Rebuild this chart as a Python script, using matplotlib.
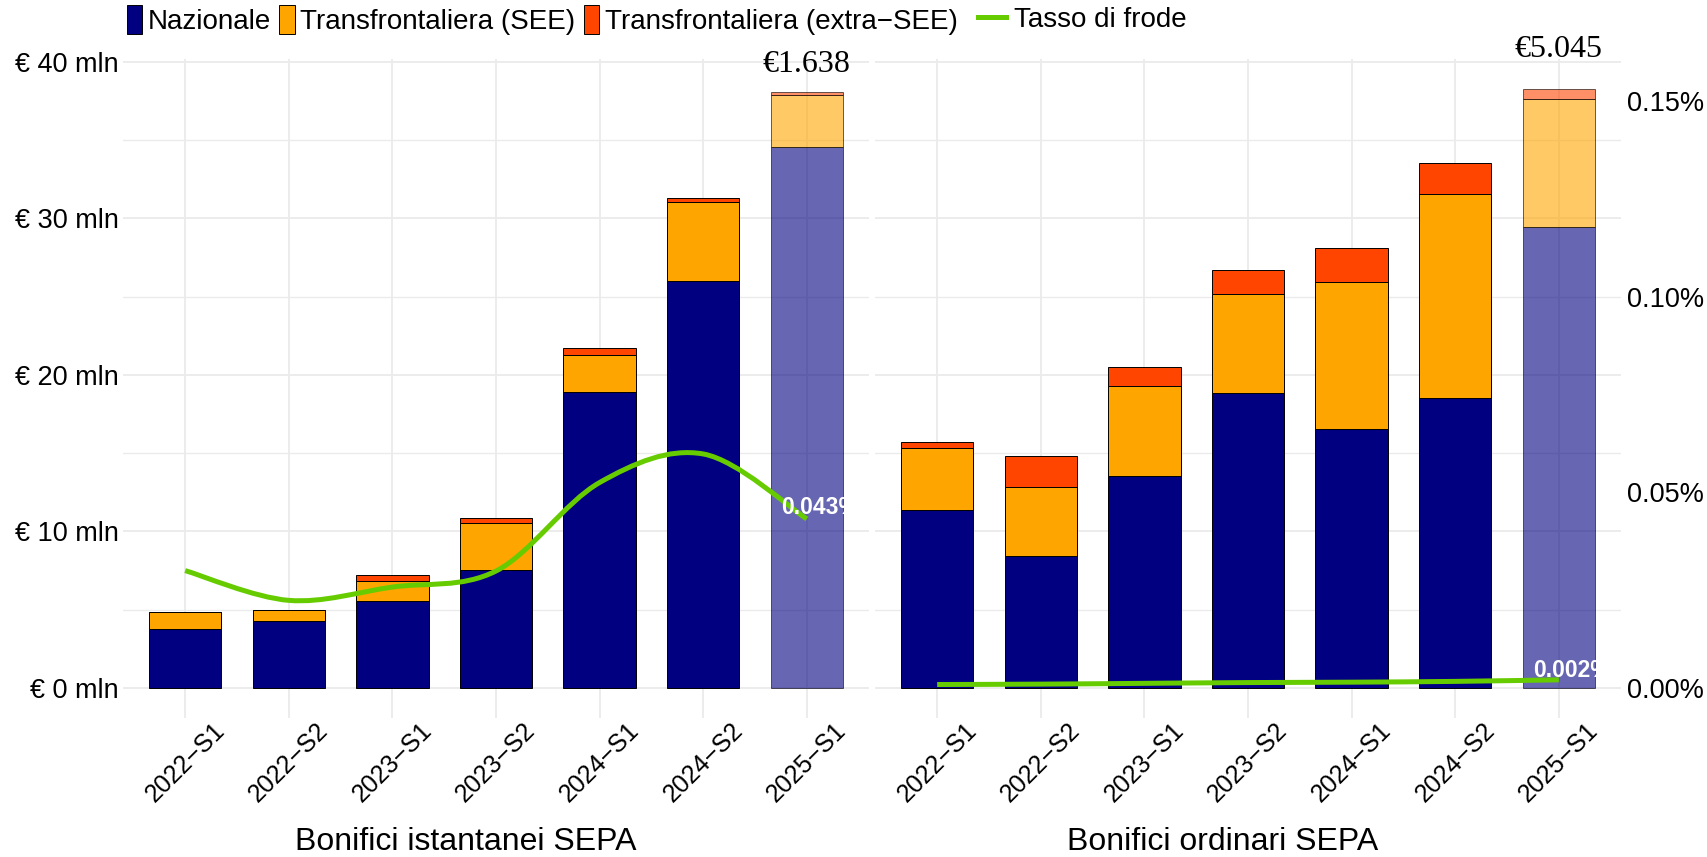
import numpy as np
import matplotlib
matplotlib.use("Agg")
import matplotlib.pyplot as plt
from matplotlib.patches import Patch, PathPatch
from matplotlib.lines import Line2D
from matplotlib.path import Path
from matplotlib.ticker import FixedLocator

plt.rcParams['font.family'] = ['Liberation Sans', 'DejaVu Sans']

# ---------------- data ----------------
periods = ["2022\u2212S1", "2022\u2212S2", "2023\u2212S1", "2023\u2212S2",
           "2024\u2212S1", "2024\u2212S2", "2025\u2212S1"]

series_names = ["Nazionale", "Transfrontaliera (SEE)", "Transfrontaliera (extra\u2212SEE)"]
rate_name = "Tasso di frode"

# Bonifici istantanei SEPA (mln di euro)
ist_naz = [3.76, 4.31, 5.53, 7.52, 18.90, 26.00, 34.57]
ist_see = [1.08, 0.66, 1.32, 3.03, 2.38, 5.03, 3.33]
ist_extra = [0.03, 0.04, 0.40, 0.33, 0.42, 0.27, 0.15]
ist_rate = [0.0300, 0.0224, 0.0258, 0.0299, 0.0525, 0.0598, 0.0432]  # %
ist_total_label = "\u20ac1.638"

# Bonifici ordinari SEPA (mln di euro)
ord_naz = [11.34, 8.42, 13.57, 18.85, 16.56, 18.50, 29.43]
ord_see = [3.96, 4.45, 5.70, 6.33, 9.39, 13.08, 8.20]
ord_extra = [0.42, 1.95, 1.25, 1.53, 2.15, 1.95, 0.63]
ord_rate = [0.0009, 0.0010, 0.0012, 0.0014, 0.0015, 0.0017, 0.0021]  # %
ord_total_label = "\u20ac5.045"

panel_titles = ["Bonifici istantanei SEPA", "Bonifici ordinari SEPA"]

y_ticks = [0, 10, 20, 30, 40]
y_minor = [5, 15, 25, 35]
rate_ticks = [0.00, 0.05, 0.10, 0.15]
SEC_FACTOR = 250.0  # mln per 1 %

# ---------------- style ----------------
NAVY = "#000080"
ORANGE = "#FFA500"
RED = "#FF4500"
GREEN = "#66CC00"
GRID = "#EBEBEB"
colors = [NAVY, ORANGE, RED]

W, H = 1708, 857
fig = plt.figure(figsize=(W / 100, H / 100), dpi=100)

px_top, px_bot = 59, 718
axl = fig.add_axes([123 / W, 1 - px_bot / H, 746 / W, (px_bot - px_top) / H])
axr = fig.add_axes([875 / W, 1 - px_bot / H, 746 / W, (px_bot - px_top) / H])

all_totals = [a + b + c for a, b, c in zip(ist_naz, ist_see, ist_extra)] + \
             [a + b + c for a, b, c in zip(ord_naz, ord_see, ord_extra)]
M = max(all_totals)
ylim = (-0.05 * M, 1.05 * M)


def smooth_path(xs, ys):
    P = np.column_stack([xs, ys]).astype(float)
    ext = np.vstack([P[0], P, P[-1]])
    verts = [tuple(P[0])]
    codes = [Path.MOVETO]
    for i in range(len(P) - 1):
        p0, p1, p2, p3 = ext[i], ext[i + 1], ext[i + 2], ext[i + 3]
        c1 = p1 + (p2 - p0) / 6.0
        c2 = p2 - (p3 - p1) / 6.0
        verts += [tuple(c1), tuple(c2), tuple(p2)]
        codes += [Path.CURVE4] * 3
    return Path(verts, codes)


def draw_panel(ax, naz, see, extra, rate, total_label, label_y, rate_dy, right_axis):
    n = len(periods)
    x = np.arange(n)
    ax.set_xlim(-0.6, n - 1 + 0.6)
    ax.set_ylim(*ylim)
    for s in ax.spines.values():
        s.set_visible(False)
    ax.set_axisbelow(True)
    ax.yaxis.set_major_locator(FixedLocator(y_ticks))
    ax.yaxis.set_minor_locator(FixedLocator(y_minor))
    ax.grid(which='major', axis='both', color=GRID, lw=1.3)
    ax.grid(which='minor', axis='y', color=GRID, lw=1.0)
    ax.set_xticks(x)
    ax.set_xticklabels(periods, rotation=45, fontsize=18)
    ax.tick_params(axis='both', which='both', length=0)
    ax.tick_params(axis='x', pad=0)
    ax.set_yticklabels([f"\u20ac {v} mln" for v in y_ticks], fontsize=19.5)
    ax.tick_params(axis='y', pad=3)
    if right_axis:
        ax.tick_params(axis='y', labelleft=False)

    bottoms = np.zeros(n)
    for vals, col in zip([naz, see, extra], colors):
        vals = np.asarray(vals)
        for i in range(n):
            alpha = 0.6 if i == n - 1 else 1.0
            ax.bar(x[i], vals[i], bottom=bottoms[i], width=0.7, color=col,
                   edgecolor='black', linewidth=0.7, alpha=alpha, zorder=2)
        bottoms = bottoms + vals

    ax.text(x[-1], label_y, total_label, ha='center', va='center',
            fontsize=23, family=['Liberation Serif', 'DejaVu Serif'], clip_on=False)

    tw = ax.twinx()
    tw.set_ylim(ylim[0] / SEC_FACTOR, ylim[1] / SEC_FACTOR)
    for s in tw.spines.values():
        s.set_visible(False)
    tw.tick_params(length=0)
    if right_axis:
        tw.set_yticks(rate_ticks)
        tw.set_yticklabels([f"{v:.2f}%" for v in rate_ticks], fontsize=19.5)
        tw.tick_params(axis='y', pad=4)
    else:
        tw.set_yticks([])
    path = smooth_path(x, rate)
    tw.add_patch(PathPatch(path, facecolor='none', edgecolor=GREEN, lw=3.6,
                           capstyle='butt', zorder=5))
    tw.text(x[-1] - 0.25, rate[-1] + rate_dy, f"{rate[-1]:.3f}%", color='white',
            fontweight='bold', fontsize=16.5, ha='left', va='center', zorder=6)


draw_panel(axl, ist_naz, ist_see, ist_extra, ist_rate, ist_total_label, 39.8, 0.0030, False)
draw_panel(axr, ord_naz, ord_see, ord_extra, ord_rate, ord_total_label, 40.8, 0.0024, True)

fig.text(466 / W, 1 - 842 / H, panel_titles[0], ha='center', va='center', fontsize=23)
fig.text(1223 / W, 1 - 842 / H, panel_titles[1], ha='center', va='center', fontsize=23)

handles = [Patch(facecolor=c, edgecolor='black', linewidth=0.7) for c in colors]
fig.legend(handles, series_names, loc='center left', bbox_to_anchor=(127 / W, 1 - 20 / H),
           ncol=3, frameon=False, fontsize=20, handlelength=0.55, handleheight=1.25,
           handletextpad=0.2, columnspacing=0.3, borderaxespad=0, borderpad=0)
fig.legend([Line2D([0], [0], color=GREEN, lw=3.6)], [rate_name], loc='center left',
           bbox_to_anchor=(978 / W, 1 - 20 / H), frameon=False, fontsize=20,
           handlelength=1.0, handletextpad=0.3, borderaxespad=0, borderpad=0)

fig.savefig("out.png", dpi=100)
